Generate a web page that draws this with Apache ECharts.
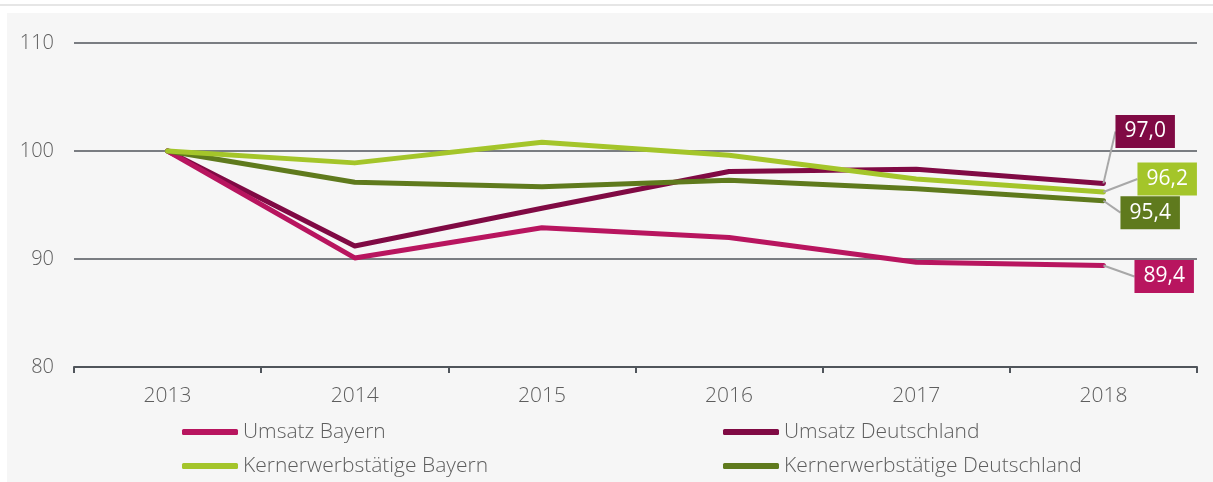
<!DOCTYPE html>
<html>
<head>
<meta charset="utf-8">
<script src="https://cdn.jsdelivr.net/npm/echarts@6/dist/echarts.min.js"></script>
<style>
html,body{margin:0;padding:0;background:#fff;width:1213px;height:482px;overflow:hidden;}
#topline{position:absolute;left:0;top:4px;width:1213px;height:2px;background:#e6e6e6;}
#panel{position:absolute;left:7px;top:13px;width:1206px;height:469px;background:#f6f6f6;}
#main{position:absolute;left:0;top:0;width:1213px;height:482px;}
</style>
</head>
<body>
<div id="topline"></div>
<div id="panel"></div>
<div id="main"></div>
<script>
const years = ['2013', '2014', '2015', '2016', '2017', '2018'];
const seriesNames = ['Umsatz Bayern', 'Umsatz Deutschland', 'Kernerwerbstätige Bayern', 'Kernerwerbstätige Deutschland'];
const umsatzBayern = [100, 90.1, 92.9, 92.0, 89.7, 89.4];
const umsatzDeutschland = [100, 91.2, 94.7, 98.1, 98.3, 97.0];
const kernBayern = [100, 98.9, 100.8, 99.6, 97.4, 96.2];
const kernDeutschland = [100, 97.1, 96.7, 97.3, 96.5, 95.4];
const yTicks = [80, 90, 100, 110];

const colors = ['#b8155f', '#800a44', '#a4c52a', '#5f7a1d'];
const seriesData = [umsatzBayern, umsatzDeutschland, kernBayern, kernDeutschland];
const labelOffsets = [[26, 11], [7, -52], [29, -13], [12, 12]];
const FONT = '"Open Sans", sans-serif';

const chart = echarts.init(document.getElementById('main'), null, {renderer: 'canvas'});

const series = seriesData.map((arr, i) => ({
  name: seriesNames[i],
  type: 'line',
  data: arr.map((v, j) => j === arr.length - 1 ? {
    value: v,
    label: {
      show: true,
      position: 'right',
      distance: 5,
      formatter: p => p.value.toFixed(1).replace('.', ','),
      backgroundColor: colors[i],
      color: '#fff',
      fontSize: 21,
      fontFamily: FONT,
      padding: [6, 9, 6, 9]
    },
    labelLine: {show: true, lineStyle: {color: '#a8a8a8', width: 2}}
  } : v),
  symbol: 'circle',
  symbolSize: 0.1,
  showSymbol: true,
  lineStyle: {width: 5, color: colors[i], cap: 'round', join: 'round'},
  itemStyle: {color: colors[i]},
  labelLayout: function (p) {
    const o = labelOffsets[i];
    return {dx: o[0], dy: o[1]};
  },
  z: [3, 2, 5, 4][i]
}));

const legendCommon = {
  orient: 'vertical',
  icon: 'roundRect',
  itemWidth: 56,
  itemHeight: 6,
  itemGap: 12,
  padding: 0,
  height: 70,
  textStyle: {fontSize: 21, color: '#5e5e5e', fontFamily: FONT, fontWeight: 300, lineHeight: 22}
};

chart.setOption({
  animation: false,
  textStyle: {fontFamily: FONT},
  grid: {left: 74, right: 16, top: 43, bottom: 115},
  legend: [
    Object.assign({left: 182, top: 421, data: [seriesNames[0], seriesNames[2]]}, legendCommon),
    Object.assign({left: 723, top: 421, data: [seriesNames[1], seriesNames[3]]}, legendCommon)
  ],
  xAxis: {
    type: 'category',
    data: years,
    boundaryGap: true,
    axisLine: {show: true, lineStyle: {color: '#50555b', width: 2}},
    axisTick: {show: true, length: 6, lineStyle: {color: '#50555b', width: 2}},
    axisLabel: {fontSize: 21, color: '#5e5e5e', margin: 19, fontFamily: FONT, fontWeight: 300}
  },
  yAxis: {
    type: 'value',
    min: yTicks[0],
    max: yTicks[yTicks.length - 1],
    interval: 10,
    axisLine: {show: false},
    axisTick: {show: false},
    axisLabel: {fontSize: 20, color: '#5e5e5e', margin: 20, fontFamily: FONT, fontWeight: 300},
    splitLine: {lineStyle: {color: '#50555b', width: 1.5}}
  },
  series: series
});
</script>
</body>
</html>
